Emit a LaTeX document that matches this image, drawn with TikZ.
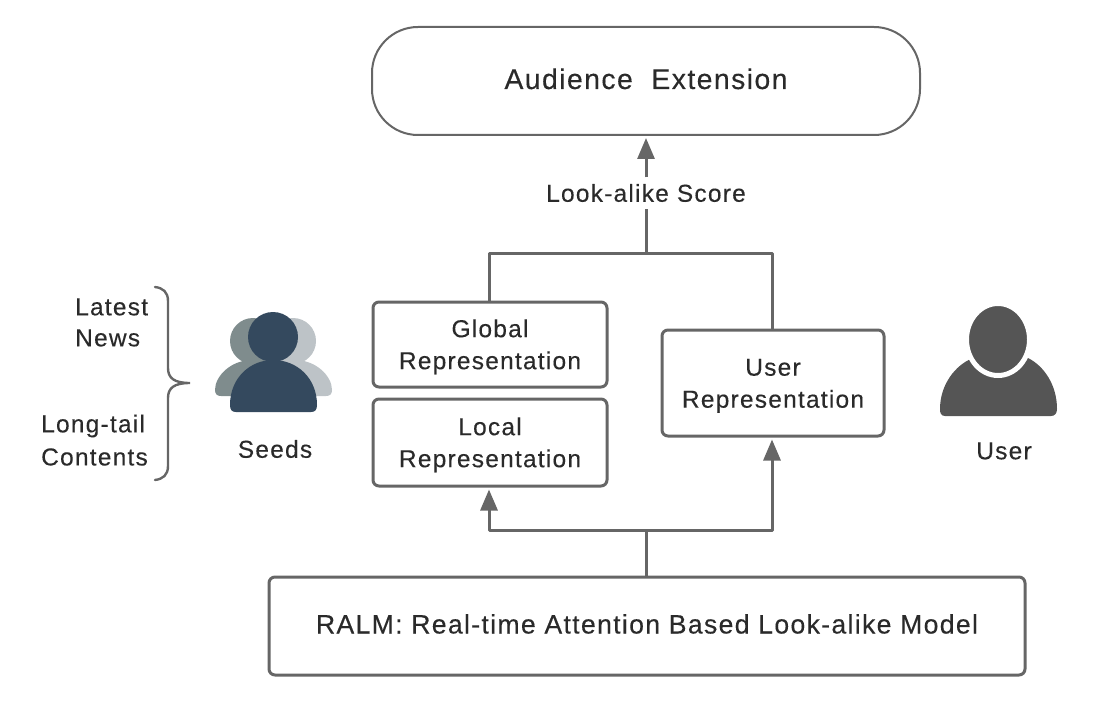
\documentclass[tikz,border=0pt]{standalone}
\usepackage{fontspec}
\setmainfont[LetterSpace=5,FakeBold=0.25]{Liberation Sans}
\usetikzlibrary{arrows.meta,positioning,calc}
\definecolor{linec}{HTML}{666666}
\definecolor{textc}{HTML}{2A2A2A}
\definecolor{seedfront}{HTML}{34495E}
\definecolor{seedleft}{HTML}{7F8C8D}
\definecolor{seedright}{HTML}{BDC3C7}
\definecolor{usericon}{HTML}{555555}
\newcommand{\twolines}[2]{\raisebox{-8.5pt}[0pt][0pt]{\begin{tabular}{@{}c@{}}#1\\#2\end{tabular}}}
\tikzset{
  x=1pt,y=-1pt,
  box/.style={draw=linec,line width=3pt,rounded corners=6pt,fill=white,align=center,text=textc,font=\fontsize{24.5}{32}\selectfont,inner sep=0pt},
  lab/.style={text=textc,font=\fontsize{24.5}{32}\selectfont,inner sep=0pt,align=left},
  wire/.style={draw=linec,line width=3pt},
  arrow/.style={wire,-{Triangle[length=21pt,width=17pt]},shorten >=2pt},
}
\begin{document}
\begin{tikzpicture}
\useasboundingbox (0,0) rectangle (1102,714);
% boxes
\node[box,rounded corners=46pt,line width=2pt,minimum width=548pt,minimum height=108pt] (top) at (646,81) {\raisebox{-8pt}[0pt][0pt]{\fontsize{28.4}{32}\selectfont Audience\ \ Extension}};
\node[box,minimum width=234pt,minimum height=85pt] (global) at (490,344.5) {\twolines{Global}{Representation}};
\node[box,minimum width=234pt,minimum height=87pt] (local) at (490,442.5) {\twolines{Local}{Representation}};
\node[box,minimum width=222pt,minimum height=106pt] (user) at (773,383) {\twolines{User}{Representation}};
\node[box,minimum width=756pt,minimum height=98pt] (ralm) at (647,626) {\raisebox{-7.5pt}[0pt][0pt]{\fontsize{26.6}{30}\selectfont RALM: Real-time Attention Based Look-alike Model}};
\node[lab,minimum height=31pt] (score) at (646,193) {Look-alike Score};
% connectors
\coordinate (join) at (646,253);
\coordinate (split) at (646,530);
\draw[wire,line join=round] (global.north -| 489,0) -- (489,253) -- (772,253) -- (user.north -| 772,0);
\draw[wire] (join) -- (score.south);
\draw[arrow] (score.north) -- (top.south -| score.north);
\draw[wire] (ralm.north -| split) -- (split);
\draw[arrow,line join=round] (split) -- (489,530) -- (local.south -| 489,0);
\draw[arrow,line join=round] (split) -- (772,530) -- (user.south -| 772,0);
% brace
\draw[draw=linec,line width=2.4pt,line cap=round] (155,287) .. controls (163,288) and (168,292) .. (168,301) -- (168,368) .. controls (168,378) and (174,383) .. (190,383) .. controls (174,383) and (168,388) .. (168,398) -- (168,466) .. controls (168,475) and (163,479) .. (155,480);
% left labels
\node[lab,anchor=west] (latest) at (75,307) {Latest};
\node[lab,anchor=west] (news) at (75,338) {News};
\node[lab,anchor=west] (long) at (41,426) {Long-tail};
\node[lab,anchor=west] (contents) at (41,457) {Contents};
\node[lab] (seeds) at (275,449) {Seeds};
\node[lab] (userlab) at (1004,451) {User};
% seeds icon
\fill[seedright] (293,341) circle (23);
\fill[seedright] (255,396) .. controls (255,372) and (275,360) .. (295,360) .. controls (316,360) and (332,376) .. (332,390) .. controls (332,394) and (330,396) .. (326,396) -- cycle;
\fill[seedleft] (253,341) circle (23);
\fill[seedleft] (292,396) .. controls (292,372) and (272,360) .. (252,360) .. controls (231,360) and (215,376) .. (215,390) .. controls (215,394) and (217,396) .. (221,396) -- cycle;
\fill[seedfront] (273,337) circle (25);
\fill[seedfront] (236,412) .. controls (232,412) and (230,410) .. (230,405) .. controls (230,378) and (250,360) .. (273,360) .. controls (297,360) and (317,378) .. (317,405) .. controls (317,410) and (315,412) .. (311,412) -- cycle;
% user icon
\fill[usericon] (945,416) .. controls (941,416) and (940,413) .. (940,409) .. controls (940,385) and (955,365) .. (973,358) -- (1028,358) .. controls (1044,366) and (1057,385) .. (1057,409) .. controls (1057,413) and (1055,416) .. (1051,416) -- cycle;
\fill[usericon,draw=white,line width=5pt] (998,339.5) ellipse [x radius=31.5,y radius=36];
\end{tikzpicture}
\end{document}
